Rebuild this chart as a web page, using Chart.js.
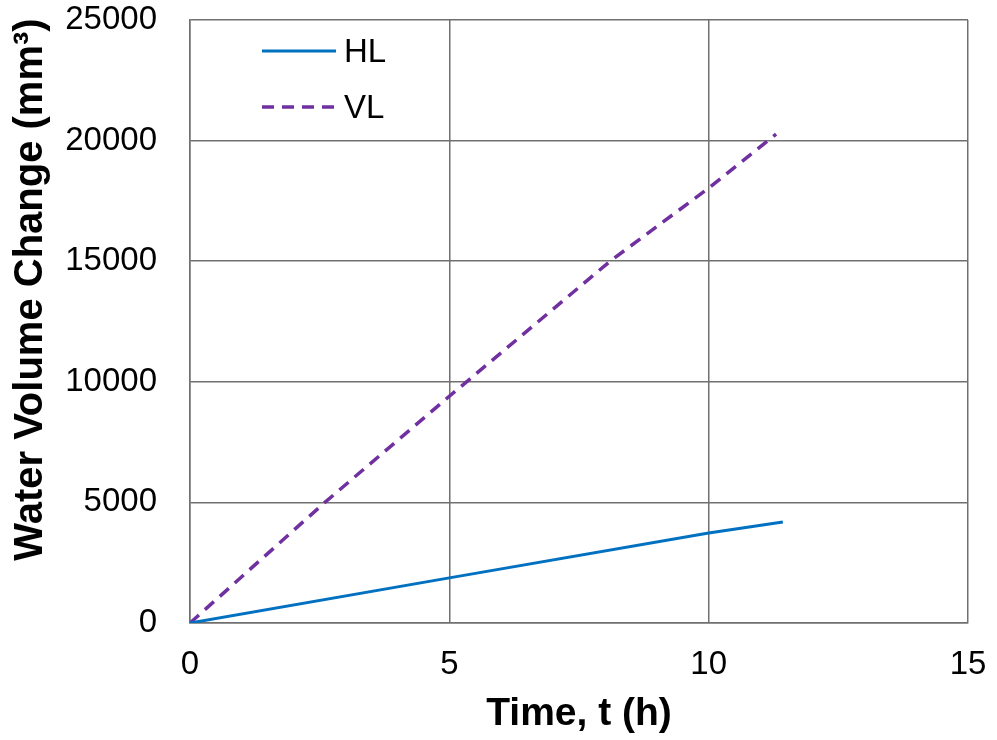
<!DOCTYPE html>
<html>
<head>
<meta charset="utf-8">
<script src="https://cdn.jsdelivr.net/npm/chart.js@4.4.1/dist/chart.umd.min.js"></script>
<style>
  html, body { margin: 0; padding: 0; background: #fff; }
  #wrap { width: 997px; height: 740px; position: relative; }
</style>
</head>
<body>
<div id="wrap"><canvas id="c" width="997" height="740"></canvas></div>
<script>
// ---- data ----
const seriesNames = ["HL", "VL"];
const hlTime = [0, 5, 10, 11.43];
const hlVolume = [0, 1870, 3730, 4190];
const vlTime = [0, 2.6, 5, 8.1, 10, 11.3];
const vlVolume = [0, 5000, 9400, 15000, 18030, 20270];
const xTicks = [0, 5, 10, 15];
const yTicks = [0, 5000, 10000, 15000, 20000, 25000];
const xTitle = "Time, t (h)";
const yTitle = "Water Volume Change (mm³)";

const FONT = "'Liberation Sans', Arial, sans-serif";

function pts(xs, ys) { return xs.map((x, i) => ({ x: x, y: ys[i] })); }

const insideLegend = {
  id: 'insideLegend',
  afterDraw(chart) {
    const ctx = chart.ctx;
    const a = chart.chartArea;
    const rows = [a.top + 31, a.top + 87];
    ctx.save();
    chart.data.datasets.forEach((ds, i) => {
      const y = rows[i];
      ctx.beginPath();
      ctx.strokeStyle = ds.borderColor;
      ctx.lineWidth = ds.borderWidth;
      ctx.setLineDash(ds.borderDash || []);
      ctx.moveTo(a.left + 72, y);
      ctx.lineTo(a.left + 146, y);
      ctx.stroke();
      ctx.setLineDash([]);
      ctx.fillStyle = '#000';
      ctx.font = "33px " + FONT;
      ctx.textAlign = 'left';
      ctx.textBaseline = 'middle';
      ctx.fillText(ds.label, a.left + 154, y + 2);
    });
    ctx.restore();
  }
};

// y-axis title, drawn as rotated text slightly above the plot centre (as in the reference)
const yTitlePlugin = {
  id: 'yTitlePlugin',
  afterDraw(chart) {
    const ctx = chart.ctx;
    const a = chart.chartArea;
    ctx.save();
    ctx.translate(42, (a.top + a.bottom) / 2 - 32);
    ctx.rotate(-Math.PI / 2);
    ctx.font = "bold 40px " + FONT;
    ctx.fillStyle = '#000';
    ctx.textAlign = 'center';
    ctx.textBaseline = 'alphabetic';
    ctx.fillText(yTitle, 0, 0);
    ctx.restore();
  }
};

new Chart(document.getElementById('c'), {
  type: 'line',
  data: {
    datasets: [
      { label: seriesNames[0], data: pts(hlTime, hlVolume), borderColor: '#0070C0', borderWidth: 3, pointRadius: 0, tension: 0, fill: false },
      { label: seriesNames[1], data: pts(vlTime, vlVolume), borderColor: '#7030A0', borderWidth: 3.5, borderDash: [12, 8], pointRadius: 0, tension: 0, fill: false }
    ]
  },
  options: {
    responsive: false,
    animation: false,
    layout: { padding: { top: 20, right: 29, left: 0, bottom: 0 } },
    plugins: { legend: { display: false }, tooltip: { enabled: false } },
    scales: {
      x: {
        type: 'linear', min: 0, max: 15,
        afterBuildTicks(s) { s.ticks = xTicks.map(v => ({ value: v })); },
        afterFit(s) { s.height = 117; s.paddingLeft = 0; s.paddingRight = 0; },
        grid: { color: '#707070', lineWidth: 1.5, drawTicks: false },
        border: { color: '#707070', width: 1.5 },
        ticks: { color: '#000', font: { family: FONT, size: 33 }, padding: 22, maxRotation: 0, callback: v => String(v) },
        title: { display: true, text: xTitle, color: '#000', font: { family: FONT, size: 39, weight: 'bold' }, padding: { top: 0, bottom: 2 } }
      },
      y: {
        type: 'linear', min: 0, max: 25000,
        afterBuildTicks(s) { s.ticks = yTicks.map(v => ({ value: v })); },
        afterFit(s) { s.width = 190; s.paddingTop = 0; s.paddingBottom = 0; },
        grid: { color: '#707070', lineWidth: 1.5, drawTicks: false },
        border: { color: '#707070', width: 1.5 },
        ticks: { color: '#000', font: { family: FONT, size: 33 }, padding: 33, callback: v => String(v) },
        title: { display: false, text: yTitle }
      }
    }
  },
  plugins: [insideLegend, yTitlePlugin]
});
</script>
</body>
</html>
